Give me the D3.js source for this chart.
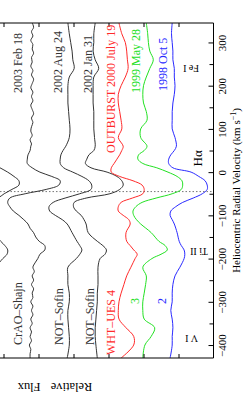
<!DOCTYPE html>
<html>
<head>
<meta charset="utf-8">
<script src="https://cdn.jsdelivr.net/npm/d3@7"></script>
<style>
  html, body { margin: 0; padding: 0; background: #fff; }
  svg { display: block; font-family: "Liberation Serif", "DejaVu Serif", serif; }
</style>
</head>
<body>
<svg id="chart" width="250" height="395"></svg>
<script>
// heliocentric velocity grid (km/s), shared by most spectra
const velocity = [345, 320, 300, 280, 260, 240, 220, 200, 180, 160,
  140, 120, 100, 80, 60, 50, 40, 30, 20, 10,
  0, -10, -20, -30, -40, -50, -60, -70, -80, -90,
  -100, -110, -120, -140, -160, -170, -180, -190, -200, -220,
  -240, -260, -280, -300, -320, -340, -360, -380, -400, -430];

// the CrAO spectrum is noisier, so it is read on a finer grid
const velocityCrAO = [345, 335, 325, 315, 305, 295, 285, 275, 265, 255,
  245, 235, 225, 215, 205, 195, 185, 175, 165, 155,
  145, 135, 125, 115, 105, 95, 85, 75, 65,
  60, 50, 40, 30, 20, 10, 0, -10, -20, -30, -40, -50, -60, -70, -80, -90,
  -100, -110, -120, -130, -140, -150, -160, -170, -180, -190, -200,
  -210, -220, -230, -240, -250, -260, -270, -280, -290, -300,
  -310, -320, -330, -340, -350, -360, -370, -380, -390, -400,
  -410, -420, -430];

// relative flux (with vertical offsets)
const fluxTop = [3.34, 3.34, 3.34, 3.34, 3.34, 3.34, 3.34, 3.34, 3.34, 3.34,
  3.34, 3.34, 3.34, 3.34, 3.34, 3.35, 3.36, 3.31, 3.16, 3.05,
  2.94, 2.85, 2.78, 2.78, 2.88, 2.99, 3.08, 3.26, 3.48, 3.55,
  3.48, 3.41, 3.34, 3.16, 3.04, 2.98, 2.94, 2.95, 3.01, 3.12,
  3.26, 3.34, 3.34, 3.34, 3.34, 3.34, 3.34, 3.34, 3.34, 3.34];
const flux2003Feb18 = [2.59, 2.57, 2.60, 2.58, 2.61, 2.58, 2.59, 2.57, 2.60, 2.59,
  2.61, 2.58, 2.60, 2.57, 2.59, 2.61, 2.58, 2.60, 2.58, 2.61,
  2.59, 2.57, 2.60, 2.58, 2.60, 2.61, 2.59, 2.62, 2.60,
  2.61, 2.62, 2.65, 2.66, 2.66, 2.59, 2.48, 2.31, 2.19, 2.21, 2.39, 2.69, 2.91, 2.94, 2.91, 2.86,
  2.78, 2.71, 2.65, 2.62, 2.57, 2.54, 2.49, 2.41, 2.41, 2.48, 2.51,
  2.55, 2.58, 2.56, 2.59, 2.57, 2.60, 2.57, 2.59, 2.58, 2.61,
  2.58, 2.60, 2.58, 2.61, 2.59, 2.62, 2.60, 2.62, 2.60, 2.63,
  2.61, 2.62, 2.62];
const flux2002Aug24 = [2.08, 2.06, 2.04, 2.02, 2.01, 1.99, 2.06, 2.08, 2.08, 2.08,
  2.07, 2.06, 2.05, 2.06, 2.11, 2.15, 2.18, 2.19, 2.19, 2.14,
  2.01, 1.88, 1.78, 1.74, 1.75, 1.91, 2.12, 2.29, 2.35, 2.34,
  2.26, 2.16, 2.09, 2.02, 1.95, 1.91, 1.88, 1.91, 1.96, 2.08,
  2.08, 2.08, 2.06, 2.06, 2.08, 2.08, 2.07, 2.06, 2.06, 2.09];
const flux2002Jan31 = [1.69, 1.71, 1.71, 1.72, 1.69, 1.64, 1.71, 1.72, 1.72, 1.72,
  1.71, 1.71, 1.71, 1.70, 1.69, 1.71, 1.78, 1.81, 1.83, 1.75,
  1.52, 1.38, 1.31, 1.29, 1.34, 1.48, 1.82, 1.99, 2.00, 1.96,
  1.89, 1.85, 1.82, 1.79, 1.66, 1.58, 1.53, 1.55, 1.62, 1.65,
  1.65, 1.65, 1.66, 1.66, 1.67, 1.68, 1.69, 1.69, 1.68, 1.66];
const flux2000Jul19 = [1.35, 1.31, 1.26, 1.24, 1.23, 1.22, 1.26, 1.32, 1.36, 1.36,
  1.34, 1.32, 1.31, 1.36, 1.29, 1.31, 1.34, 1.38, 1.42, 1.46,
  1.46, 1.34, 1.15, 1.02, 0.99, 1.01, 1.16, 1.32, 1.36, 1.36,
  1.29, 1.21, 1.19, 1.25, 1.24, 1.19, 1.14, 1.09, 1.12, 1.18,
  1.24, 1.28, 1.32, 1.35, 1.36, 1.35, 1.25, 1.14, 1.14, 1.32];
const flux1999May28 = [0.96, 0.94, 0.93, 0.91, 0.86, 0.91, 0.96, 1.00, 1.01, 1.00,
  0.96, 0.95, 1.04, 1.04, 0.95, 0.99, 1.07, 1.08, 1.01, 0.81,
  0.65, 0.52, 0.45, 0.44, 0.46, 0.59, 0.82, 1.02, 1.11, 1.15,
  1.14, 1.10, 1.04, 0.89, 0.78, 0.69, 0.66, 0.75, 0.88, 1.01,
  0.96, 0.97, 0.99, 1.01, 1.01, 0.99, 0.84, 0.89, 0.98, 1.01];
const flux1998Oct5 = [0.59, 0.60, 0.59, 0.58, 0.58, 0.56, 0.56, 0.55, 0.56, 0.58,
  0.59, 0.59, 0.59, 0.55, 0.53, 0.56, 0.61, 0.64, 0.64, 0.58,
  0.32, 0.21, 0.12, 0.09, 0.09, 0.16, 0.29, 0.44, 0.54, 0.61,
  0.62, 0.59, 0.56, 0.52, 0.49, 0.46, 0.42, 0.41, 0.42, 0.48,
  0.55, 0.58, 0.59, 0.59, 0.61, 0.59, 0.58, 0.59, 0.59, 0.62];

const velTicks = [300, 200, 100, 0, -100, -200, -300, -400];
const velMinorTicks = [250, 150, 50, -50, -150, -250, -350];
const fluxTicks = [0.5, 1, 1.5, 2, 2.5, 3];
const systemicVelocity = -45;

const dateLabels = ["2003 Feb 18", "2002 Aug 24", "2002 Jan 31", "OUTBURST 2000 July 19", "1999 May 28", "1998 Oct 5"];
const siteLabels = ["CrAO\u2013Shajn", "NOT\u2013Sofin", "NOT\u2013Sofin", "WHT\u2013UES 4", "3", "2"];
const lineLabels = ["Fe I", "Ti II", "V I"];

const ink = "#333";
const red = "#ff2a2a";
const green = "#22e022";
const blue = "#2a2aff";

const svg = d3.select("#chart");
const plotTop = 23, plotBottom = 358, plotRight = 213.5;

const yScale = d3.scaleLinear().domain([345, -430]).range([plotTop, plotBottom]);
const xScale = d3.scaleLinear().domain([0, 3.05]).range([plotRight, 0]);

svg.append("clipPath").attr("id", "frame")
  .append("rect")
  .attr("x", -40).attr("y", plotTop)
  .attr("width", plotRight + 40).attr("height", plotBottom - plotTop);

// dotted systemic velocity line
svg.append("line")
  .attr("x1", 0).attr("x2", plotRight)
  .attr("y1", yScale(systemicVelocity)).attr("y2", yScale(systemicVelocity))
  .attr("stroke", "#777").attr("stroke-width", 1)
  .attr("stroke-dasharray", "1.5,2");

const spectra = [
  { vel: velocity, flux: fluxTop, color: ink },
  { vel: velocityCrAO, flux: flux2003Feb18, color: ink },
  { vel: velocity, flux: flux2002Aug24, color: ink },
  { vel: velocity, flux: flux2002Jan31, color: ink },
  { vel: velocity, flux: flux2000Jul19, color: red },
  { vel: velocity, flux: flux1999May28, color: green },
  { vel: velocity, flux: flux1998Oct5, color: blue }
];

const line = d3.line()
  .x((d) => xScale(d[1]))
  .y((d) => yScale(d[0]))
  .curve(d3.curveCatmullRom.alpha(0.5));

svg.append("g")
  .attr("clip-path", "url(#frame)")
  .selectAll("path")
  .data(spectra)
  .enter()
  .append("path")
  .attr("d", (s) => line(s.vel.map((v, i) => [v, s.flux[i]])))
  .attr("fill", "none")
  .attr("stroke", (s) => s.color)
  .attr("stroke-width", 1);

// frame
svg.append("path")
  .attr("d", `M${xScale(3.6)},${plotTop}H${plotRight}V${plotBottom}H${xScale(3.6)}`)
  .attr("fill", "none").attr("stroke", "#000").attr("stroke-width", 1);

// velocity axis on the right edge, ticks pointing in
const vAxis = svg.append("g")
  .attr("transform", `translate(${plotRight},0)`)
  .call(d3.axisRight(yScale).tickValues(velTicks).tickSizeInner(-5).tickSizeOuter(0).tickFormat(d3.format("d")));
vAxis.select(".domain").remove();
vAxis.selectAll("text")
  .attr("transform", "rotate(-90)")
  .attr("x", 0).attr("y", 12.5).attr("dy", 0)
  .attr("text-anchor", "middle")
  .attr("font-size", 11)
  .attr("font-family", "Liberation Serif")
  .attr("fill", "#000");

const vMinor = svg.append("g")
  .attr("transform", `translate(${plotRight},0)`)
  .call(d3.axisRight(yScale).tickValues(velMinorTicks).tickSizeInner(-4).tickSizeOuter(0).tickFormat(""));
vMinor.select(".domain").remove();

// flux ticks on top and bottom edges
const fTop = svg.append("g")
  .attr("transform", `translate(0,${plotTop})`)
  .call(d3.axisBottom(xScale).tickValues(fluxTicks).tickSizeInner(4).tickSizeOuter(0).tickFormat(""));
fTop.select(".domain").remove();
const fBottom = svg.append("g")
  .attr("transform", `translate(0,${plotBottom})`)
  .call(d3.axisTop(xScale).tickValues(fluxTicks).tickSizeInner(4).tickSizeOuter(0).tickFormat(""));
fBottom.select(".domain").remove();

// axis titles
const title = svg.append("text")
  .attr("transform", `translate(240,${(plotTop + plotBottom) / 2}) rotate(-90)`)
  .attr("text-anchor", "middle")
  .attr("font-size", 11);
title.append("tspan").text("Heliocentric Radial Velocity (km s");
title.append("tspan").attr("dy", -4).attr("font-size", 8).text("\u22121");
title.append("tspan").attr("dy", 4).text(")");

svg.append("text")
  .attr("transform", "translate(55,383) rotate(180)")
  .attr("text-anchor", "middle")
  .attr("font-size", 12.5)
  .attr("word-spacing", 7)
  .text("Relative Flux");

// spectrum labels
const labelColors = [ink, ink, ink, red, green, blue];
const dateX = [22, 62, 92, 115, 140, 167];
const dateY = [93, 93, 93, 153, 93, 91];
dateLabels.forEach((t, i) => {
  svg.append("text")
    .attr("transform", `translate(${dateX[i]},${dateY[i]}) rotate(-90)`)
    .attr("font-size", 12)
    .attr("fill", labelColors[i])
    .text(t);
});

const siteX = [22, 63, 94, 115, 139, 166];
const siteY = [345, 345, 345, 355, 304, 304];
siteLabels.forEach((t, i) => {
  svg.append("text")
    .attr("transform", `translate(${siteX[i]},${siteY[i]}) rotate(-90)`)
    .attr("font-size", 12)
    .attr("fill", labelColors[i])
    .text(t);
});

svg.append("text")
  .attr("transform", `translate(202,${yScale(32)}) rotate(-90)`)
  .attr("text-anchor", "middle")
  .attr("font-size", 13)
  .text("H\u03b1");

// upside-down line identifications
const lineVel = [238, -185, -385];
const lineX = [191, 199, 191.5];
lineLabels.forEach((t, i) => {
  svg.append("text")
    .attr("transform", `translate(${lineX[i]},${yScale(lineVel[i]) - 4}) rotate(180)`)
    .attr("text-anchor", "middle")
    .attr("font-size", 10)
    .text(t);
});
</script>
</body>
</html>
